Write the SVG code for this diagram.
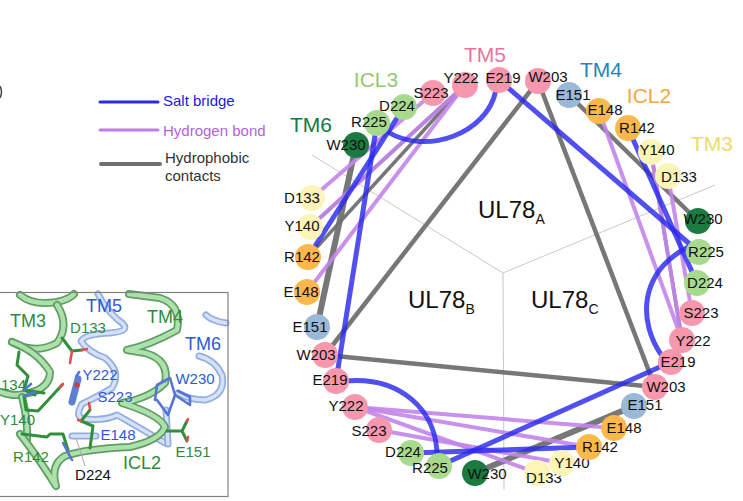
<svg xmlns="http://www.w3.org/2000/svg" width="743" height="501" viewBox="0 0 743 501">
<style>
text{font-family:"Liberation Sans",Arial,sans-serif}
.n text{font-size:15px;fill:#111;text-anchor:middle}
.sb{stroke:#2a2aee;stroke-width:5;fill:none;opacity:.82}
.hb{stroke:#c285ea;stroke-width:4;fill:none;opacity:.9}
.hc{stroke:#707070;stroke-width:4.5;fill:none;opacity:.95}
.grid{stroke:#c8c8c8;stroke-width:1;fill:none}
.tm{font-size:21px;text-anchor:middle}
.ul{font-size:24px;fill:#111}
.ul tspan{font-size:14px}
.p5{fill:#f797ad}.g{fill:#a8da8e}.dg{fill:#1a7a3f}.y{fill:#fdf4b8}.o{fill:#fcb84d}.b{fill:#9ab9d8}
.rg{fill:none;stroke:#5f9f62;stroke-width:8;stroke-linecap:round;stroke-linejoin:round}
.rg2{fill:none;stroke:#aee0ae;stroke-width:4.500;stroke-linecap:round;stroke-linejoin:round}
.rb{fill:none;stroke:#93aee2;stroke-width:7;stroke-linecap:round;stroke-linejoin:round}
.rb2{fill:none;stroke:#d6e1f7;stroke-width:3.500;stroke-linecap:round;stroke-linejoin:round}
.st{fill:none;stroke:#2f8f3a;stroke-width:3;stroke-linecap:round;stroke-linejoin:round}
.sr{fill:none;stroke:#e0504a;stroke-width:2.600;stroke-linecap:round}
.sl{fill:none;stroke:#5475d4;stroke-width:2.600;stroke-linecap:round;stroke-linejoin:round}
.lb{font-size:15px;fill:#2f58d8;text-anchor:middle}
.lg{font-size:15px;fill:#2e8b3a;text-anchor:middle}
</style>

<path d="M0 86Q3 92 0 98" fill="none" stroke="#444" stroke-width="1.500"/>

<g id="legend">
<line x1="100" y1="102" x2="158" y2="102" stroke="#2a2aee" stroke-width="3" stroke-linecap="round"/>
<line x1="100" y1="130" x2="158" y2="130" stroke="#c07ce8" stroke-width="3" stroke-linecap="round"/>
<line x1="101" y1="164" x2="160" y2="164" stroke="#707070" stroke-width="4" stroke-linecap="round"/>
<text x="163" y="106" font-size="15" fill="#1a1ae0">Salt bridge</text>
<text x="163" y="136" font-size="15" fill="#b55fe0">Hydrogen bond</text>
<text x="165" y="163" font-size="15" fill="#333">Hydrophobic</text>
<text x="165" y="181" font-size="15" fill="#333">contacts</text>
</g>

<g id="inset">
<path class="rb" d="M98 294Q105 308 118 320Q135 331 110 333Q85 334 81 341Q88 352 105 358Q122 372 112 388Q95 398 82 404Q74 418 85 419Q105 421 117 415Q135 425 165 443"/>
<path class="rb2" d="M98 294Q105 308 118 320Q135 331 110 333Q85 334 81 341Q88 352 105 358Q122 372 112 388Q95 398 82 404Q74 418 85 419Q105 421 117 415Q135 425 165 443"/>
<path class="rb" d="M206 315Q212 321 226 323M199 356Q215 360 222 375Q226 395 205 400Q190 400 178 393"/>
<path class="rb2" d="M206 315Q212 321 226 323M199 356Q215 360 222 375Q226 395 205 400Q190 400 178 393"/>
<path class="rb" d="M72 436H96M166 410L168 444"/>
<path class="rb2" d="M72 436H96M166 410L168 444"/>
<path class="st" d="M19 352L17 365L28 376L24 390"/>
<path class="rg" d="M20 295Q33 306 57 302Q70 299 74 294"/>
<path class="rg2" d="M20 295Q33 306 57 302Q70 299 74 294"/>
<path class="rg" d="M57 305Q70 325 57 343Q35 355 12 342"/>
<path class="rg2" d="M57 305Q70 325 57 343Q35 355 12 342"/>
<path class="rg" d="M12 342Q38 352 50 372Q50 392 17 395Q8 395 1 392"/>
<path class="rg2" d="M12 342Q38 352 50 372Q50 392 17 395Q8 395 1 392"/>
<path class="rg" d="M22 397Q28 420 27 440"/>
<path class="rg2" d="M22 397Q28 420 27 440"/>
<path class="rg" d="M20 434Q40 460 56 486Q50 465 65 456Q85 449 130 447Q160 440 165 427Q160 415 122 403Q150 398 165 383Q170 360 145 353L127 350Q150 345 177 330Q182 305 160 298L129 294"/>
<path class="rg2" d="M20 434Q40 460 56 486Q50 465 65 456Q85 449 130 447Q160 440 165 427Q160 415 122 403Q150 398 165 383Q170 360 145 353L127 350Q150 345 177 330Q182 305 160 298L129 294"/>
<path class="st" d="M62 338L72 351L82 350M24 390L44 393M24 390L35 395M24 396L26 410L38 411L62 385M22 434L47 437L50 434H63L68 450M90 448L93 426L81 421L90 410M167 431H182M182 431L187 421M182 431L187 441"/>
<path class="sr" d="M82 350L87 349M72 351L70 363M90 409L89 403M81 421L78 420M60 387L63 384M187 421L188 419M187 441L188 437"/>
<path class="sl" d="M24 390L31 384M24 396L35 392M63 443L72 460M76 377L79 372M155 400L157 385L170 378L175 395L168 415L157 400M175 395L190 405L190 397L178 391"/>
<path d="M78 379L72 402" stroke="#5c7fd8" stroke-width="7" stroke-linecap="round" fill="none"/>
<circle cx="77" cy="385" r="2.500" fill="#d33"/>
<line x1="76" y1="438" x2="85" y2="466" stroke="#aaa" stroke-width="1"/>
<rect x="-2" y="292.500" width="230" height="204" fill="none" stroke="#808080" stroke-width="1.200"/>
<text class="lb" x="104" y="312" style="font-size:18px">TM5</text>
<text class="lg" x="28" y="327" style="font-size:18px">TM3</text>
<text class="lg" x="88" y="333">D133</text>
<text class="lg" x="165" y="323" style="font-size:18px">TM4</text>
<text class="lb" x="203" y="350" style="font-size:18px">TM6</text>
<text class="lb" x="100" y="380">Y222</text>
<text class="lb" x="115" y="402">S223</text>
<text class="lb" x="195" y="384">W230</text>
<text class="lg" x="26" y="390" style="text-anchor:end">134</text>
<text class="lg" x="0" y="425" style="text-anchor:start">Y140</text>
<text class="lb" x="118" y="440">E148</text>
<text class="lg" x="193" y="457">E151</text>
<text class="lg" x="31" y="462">R142</text>
<text class="lg" x="142" y="469" style="font-size:18px">ICL2</text>
<text x="93" y="480" font-size="15" fill="#111" text-anchor="middle">D224</text>
</g>

<g id="grid">
<line class="grid" x1="503" y1="273" x2="312" y2="155"/>
<line class="grid" x1="503" y1="273" x2="715" y2="185"/>
<line class="grid" x1="503" y1="273" x2="504" y2="490"/>
</g>

<g id="connectors">
<line class="hc" x1="538" y1="81" x2="325" y2="355"/>
<line class="hc" x1="538" y1="81" x2="655" y2="387"/>
<line class="hc" x1="325" y1="355" x2="655" y2="387"/>
<line class="hc" x1="569" y1="95" x2="698" y2="221"/>
<line class="hc" x1="317" y1="327" x2="356" y2="145" style="stroke-width:6"/>
<line class="hc" x1="634" y1="406" x2="475" y2="473" style="stroke-width:6"/>
<line class="hc" x1="465" y1="85" x2="310" y2="227" style="stroke-width:3.500"/>
<line class="hc" x1="465" y1="85" x2="308" y2="257" style="stroke-width:3.500"/>
<line class="hc" x1="651" y1="152" x2="682" y2="340" style="stroke-width:3.500"/>

<line class="hb" x1="433" y1="93" x2="312" y2="198"/>
<line class="hb" x1="465" y1="85" x2="310" y2="227"/>
<line class="hb" x1="465" y1="85" x2="307" y2="292"/>
<line class="hb" x1="599" y1="111" x2="682" y2="340"/>
<line class="hb" x1="651" y1="152" x2="682" y2="340"/>
<line class="hb" x1="668" y1="176" x2="692" y2="313"/>
<line class="hb" x1="355" y1="407" x2="614" y2="428"/>
<line class="hb" x1="355" y1="407" x2="589" y2="447"/>
<line class="hb" x1="355" y1="407" x2="537" y2="473"/>
<line class="hb" x1="379" y1="430" x2="562" y2="463"/>

<line class="sb" x1="377" y1="123" x2="336" y2="381"/>
<line class="sb" x1="404" y1="107" x2="308" y2="257"/>
<line class="sb" x1="499" y1="80" x2="699" y2="252"/>
<line class="sb" x1="628" y1="128" x2="697" y2="283"/>
<line class="sb" x1="411" y1="453" x2="589" y2="447"/>
<line class="sb" x1="439" y1="466" x2="671" y2="362"/>
<path class="sb" d="M496 90C487 135 425 155 388 132"/>
<path class="sb" d="M690 246C638 272 638 322 662 356"/>
<path class="sb" d="M345 381C400 376 438 410 437 458"/>
</g>

<g id="sector-labels">
<text class="ul" x="478" y="218">UL78<tspan dy="6">A</tspan></text>
<text class="ul" x="408" y="308">UL78<tspan dy="6">B</tspan></text>
<text class="ul" x="531" y="308">UL78<tspan dy="6">C</tspan></text>
<text class="tm" x="485" y="62" fill="#e8749a">TM5</text>
<text class="tm" x="376" y="87" fill="#93c775">ICL3</text>
<text class="tm" x="311" y="132" fill="#0e7a40">TM6</text>
<text class="tm" x="601" y="77" fill="#2a82b8">TM4</text>
<text class="tm" x="649" y="103" fill="#f5a63c">ICL2</text>
<text class="tm" x="712" y="151" fill="#eeda6e">TM3</text>
</g>

<g class="n">
<g id="a-w203"><circle class="p5" cx="538" cy="81" r="13"/><text x="548" y="82">W203</text></g>
<g id="a-e219"><circle class="p5" cx="499" cy="80" r="13"/><text x="503" y="83">E219</text></g>
<g id="a-y222"><circle class="p5" cx="465" cy="85" r="13"/><text x="461" y="83">Y222</text></g>
<g id="a-s223"><circle class="p5" cx="433" cy="93" r="13"/><text x="431" y="98">S223</text></g>
<g id="a-d224"><circle class="g" cx="404" cy="107" r="13"/><text x="397" y="111">D224</text></g>
<g id="a-r225"><circle class="g" cx="377" cy="123" r="13"/><text x="369" y="127">R225</text></g>
<g id="a-w230"><circle class="dg" cx="356" cy="145" r="13"/><text x="346" y="150">W230</text></g>
<g id="a-d133"><circle class="y" cx="312" cy="198" r="13"/><text x="302" y="203">D133</text></g>
<g id="a-y140"><circle class="y" cx="310" cy="227" r="13"/><text x="302" y="231">Y140</text></g>
<g id="a-r142"><circle class="o" cx="308" cy="257" r="13"/><text x="302" y="262">R142</text></g>
<g id="a-e148"><circle class="o" cx="307" cy="292" r="13"/><text x="301" y="297">E148</text></g>
<g id="a-e151"><circle class="b" cx="317" cy="327" r="13"/><text x="310" y="332">E151</text></g>
<g id="b-w203"><circle class="p5" cx="325" cy="355" r="13"/><text x="316" y="360">W203</text></g>
<g id="b-e219"><circle class="p5" cx="336" cy="381" r="13"/><text x="330" y="385">E219</text></g>
<g id="b-y222"><circle class="p5" cx="355" cy="407" r="13"/><text x="346" y="411">Y222</text></g>
<g id="b-s223"><circle class="p5" cx="379" cy="430" r="13"/><text x="369" y="436">S223</text></g>
<g id="b-d224"><circle class="g" cx="411" cy="453" r="13"/><text x="403" y="457">D224</text></g>
<g id="b-r225"><circle class="g" cx="439" cy="466" r="13"/><text x="430" y="473">R225</text></g>
<g id="b-w230"><circle class="dg" cx="475" cy="473" r="13"/><text x="487" y="479">W230</text></g>
<g id="c-d133"><circle class="y" cx="537" cy="473" r="13"/><text x="544" y="483">D133</text></g>
<g id="c-y140"><circle class="y" cx="562" cy="463" r="13"/><text x="572" y="468">Y140</text></g>
<g id="c-r142"><circle class="o" cx="589" cy="447" r="13"/><text x="600" y="452">R142</text></g>
<g id="c-e148"><circle class="o" cx="614" cy="428" r="13"/><text x="624" y="433">E148</text></g>
<g id="c-e151"><circle class="b" cx="634" cy="406" r="13"/><text x="645" y="410">E151</text></g>
<g id="c-w203"><circle class="p5" cx="655" cy="387" r="13"/><text x="666" y="392">W203</text></g>
<g id="c-e219"><circle class="p5" cx="671" cy="362" r="13"/><text x="678" y="367">E219</text></g>
<g id="c-y222"><circle class="p5" cx="682" cy="340" r="13"/><text x="693" y="346">Y222</text></g>
<g id="c-s223"><circle class="p5" cx="692" cy="313" r="13"/><text x="701" y="318">S223</text></g>
<g id="c-d224"><circle class="g" cx="697" cy="283" r="13"/><text x="705" y="288">D224</text></g>
<g id="c-r225"><circle class="g" cx="699" cy="252" r="13"/><text x="706" y="257">R225</text></g>
<g id="c-w230"><circle class="dg" cx="698" cy="221" r="13"/><text x="703" y="224">W230</text></g>
<g id="c-d133t"><circle class="y" cx="668" cy="176" r="13"/><text x="679" y="182">D133</text></g>
<g id="c-y140t"><circle class="y" cx="651" cy="152" r="13"/><text x="657" y="155">Y140</text></g>
<g id="c-r142t"><circle class="o" cx="628" cy="128" r="13"/><text x="637" y="133">R142</text></g>
<g id="c-e148t"><circle class="o" cx="599" cy="111" r="13"/><text x="605" y="115">E148</text></g>
<g id="c-e151t"><circle class="b" cx="569" cy="95" r="13"/><text x="573" y="100">E151</text></g>
</g>
</svg>
